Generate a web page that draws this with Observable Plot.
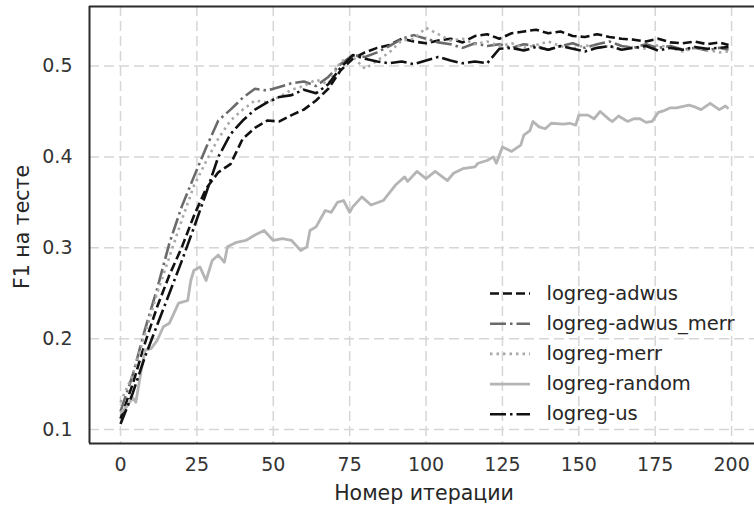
<!DOCTYPE html>
<html><head><meta charset="utf-8">
<script src="https://cdn.jsdelivr.net/npm/d3@7"></script>
<script src="https://cdn.jsdelivr.net/npm/@observablehq/plot@0.6"></script>
<style>
html,body{margin:0;padding:0;background:#fff;overflow:hidden;}
</style></head><body><div id="chart"></div>
<script>
// Iterations sampled for the four overlapping series
const iters = [0,4,8,12,16,20,24,28,32,36,40,44,48,52,56,60,64,68,72,76,80,84,88,92,96,100,104,108,112,116,120,124,128,132,136,140,144,148,152,156,160,164,168,172,176,180,184,188,192,196,199];

const adwus = [0.112,0.150,0.195,0.235,0.270,0.300,0.335,0.365,0.383,0.392,0.420,0.432,0.440,0.439,0.446,0.452,0.462,0.475,0.495,0.508,0.515,0.520,0.523,0.530,0.527,0.525,0.528,0.530,0.526,0.533,0.535,0.530,0.536,0.538,0.540,0.536,0.538,0.533,0.532,0.535,0.532,0.530,0.529,0.527,0.530,0.526,0.525,0.527,0.524,0.526,0.523];

const adwusMerr = [0.120,0.160,0.210,0.255,0.305,0.345,0.378,0.410,0.440,0.452,0.465,0.475,0.473,0.477,0.481,0.483,0.478,0.488,0.502,0.512,0.510,0.515,0.522,0.530,0.534,0.530,0.526,0.524,0.520,0.525,0.522,0.524,0.520,0.524,0.522,0.518,0.522,0.525,0.520,0.524,0.527,0.522,0.520,0.524,0.520,0.522,0.518,0.520,0.517,0.520,0.518];

const merr = [0.130,0.160,0.205,0.250,0.290,0.330,0.368,0.395,0.420,0.440,0.452,0.462,0.460,0.466,0.474,0.478,0.485,0.480,0.505,0.510,0.497,0.506,0.515,0.528,0.530,0.542,0.535,0.528,0.530,0.524,0.527,0.522,0.525,0.520,0.523,0.527,0.522,0.519,0.523,0.520,0.522,0.518,0.521,0.519,0.523,0.520,0.516,0.520,0.518,0.515,0.516];

const us = [0.106,0.140,0.180,0.215,0.250,0.285,0.322,0.360,0.400,0.425,0.440,0.452,0.460,0.466,0.468,0.474,0.470,0.480,0.498,0.512,0.508,0.505,0.503,0.505,0.502,0.506,0.510,0.506,0.503,0.505,0.503,0.519,0.520,0.517,0.521,0.518,0.522,0.519,0.516,0.520,0.522,0.518,0.520,0.522,0.517,0.520,0.518,0.521,0.519,0.520,0.521];

// Random baseline, read at its own iterations
const randomIters = [0,2,4,5,7,8,10,12,14,16,19,22,23,24,26,28,30,32,34,35,38,41,44,47,50,53,56,59,61,62,64,67,69,71,73,75,76,79,82,86,90,93,94,97,100,103,107,109,112,116,117,120,122,123,125,128,131,132,134,135,137,139,141,145,147,149,150,153,155,157,160,161,163,166,168,170,172,174,176,178,180,182,186,188,190,193,196,198,199];
const random = [0.118,0.125,0.135,0.130,0.169,0.187,0.189,0.198,0.213,0.217,0.239,0.242,0.264,0.275,0.279,0.264,0.286,0.292,0.284,0.301,0.306,0.308,0.314,0.319,0.308,0.310,0.308,0.297,0.301,0.319,0.323,0.341,0.339,0.350,0.352,0.339,0.345,0.356,0.347,0.352,0.369,0.378,0.373,0.384,0.376,0.384,0.374,0.382,0.387,0.389,0.393,0.396,0.400,0.393,0.411,0.406,0.413,0.424,0.429,0.439,0.433,0.431,0.437,0.436,0.437,0.435,0.446,0.446,0.442,0.450,0.441,0.439,0.445,0.439,0.442,0.442,0.438,0.439,0.449,0.451,0.454,0.454,0.457,0.455,0.452,0.459,0.452,0.456,0.453];

const seriesNames = ["logreg-adwus","logreg-adwus_merr","logreg-merr","logreg-random","logreg-us"];
const xTicks = [0,25,50,75,100,125,150,175,200];
const yTicks = [0.1,0.2,0.3,0.4,0.5];
const xTitle = "Номер итерации";
const yTitle = "F1 на тесте";

// styles (not data)
const styles = {
  "logreg-adwus":      {stroke:"#111111", dash:"9,4",        width:2.6},
  "logreg-adwus_merr": {stroke:"#6a6a6a", dash:"16,4,2.5,4", width:2.6},
  "logreg-merr":       {stroke:"#a8a8a8", dash:"2.5,4",      width:2.6},
  "logreg-random":     {stroke:"#b5b5b5", dash:null,         width:2.8},
  "logreg-us":         {stroke:"#111111", dash:"16,4,2.5,4", width:2.6}
};

const rows = [];
const addSeries = (name, xs, ys) => xs.forEach((x, i) => rows.push({series: name, x, y: ys[i]}));
addSeries(seriesNames[0], iters, adwus);
addSeries(seriesNames[1], iters, adwusMerr);
addSeries(seriesNames[2], iters, merr);
addSeries(seriesNames[3], randomIters, random);
addSeries(seriesNames[4], iters, us);

const W = 754, H = 509;
const xDomain = [-10.15, 207.5];
const yDomain = [0.0846, 0.5655];
const gridStyle = {stroke:"#d6d6d6", strokeWidth:1.5, strokeDasharray:"10,5"};

const lineMarks = seriesNames.map(name => Plot.line(rows.filter(d => d.series === name), {
  x: "x", y: "y",
  stroke: styles[name].stroke,
  strokeWidth: styles[name].width,
  strokeDasharray: styles[name].dash,
  strokeLinecap: "butt",
  strokeLinejoin: "round"
}));

const chart = Plot.plot({
  width: W, height: H,
  marginLeft: 89, marginRight: 0, marginTop: 6, marginBottom: 66,
  style: {fontFamily: "'DejaVu Sans'", fontSize: "19px", color: "#333", background: "#fff"},
  x: {domain: xDomain, ticks: xTicks, tickSize: 0, tickPadding: 14, label: null},
  y: {domain: yDomain, ticks: yTicks, tickSize: 0, tickPadding: 17, label: null, tickFormat: d3.format(".1f")},
  marks: [
    Plot.ruleX(xTicks, gridStyle),
    Plot.ruleY(yTicks, gridStyle),
    ...lineMarks,
    Plot.ruleX([xDomain[0]], {stroke:"#2b2b2b", strokeWidth:2}),
    Plot.ruleY(yDomain, {stroke:"#2b2b2b", strokeWidth:2})
  ]
});

const svg = d3.select(chart);
// axis titles
svg.append("text")
  .attr("x", 424).attr("y", 500)
  .attr("text-anchor", "middle")
  .attr("font-size", 20.5).attr("fill", "#262626")
  .text(xTitle);
svg.append("text")
  .attr("transform", "translate(28.5,227) rotate(-90)")
  .attr("text-anchor", "middle")
  .attr("font-size", 20.5).attr("fill", "#262626")
  .text(yTitle);

// legend
const lg = svg.append("g").attr("text-anchor", "start");
seriesNames.forEach((name, k) => {
  const ry = 293.5 + k * 30.2;
  const s = styles[name];
  const ln = lg.append("line")
    .attr("x1", 490).attr("x2", 530).attr("y1", ry).attr("y2", ry)
    .attr("stroke", s.stroke).attr("stroke-width", s.width)
    .attr("stroke-linecap", "butt");
  if (s.dash) ln.attr("stroke-dasharray", s.dash);
  lg.append("text")
    .attr("x", 546.5).attr("y", ry + 6)
    .attr("text-anchor", "start")
    .attr("font-size", 19.5).attr("fill", "#262626")
    .text(name);
});

document.getElementById("chart").appendChild(chart);
</script>
</body></html>
